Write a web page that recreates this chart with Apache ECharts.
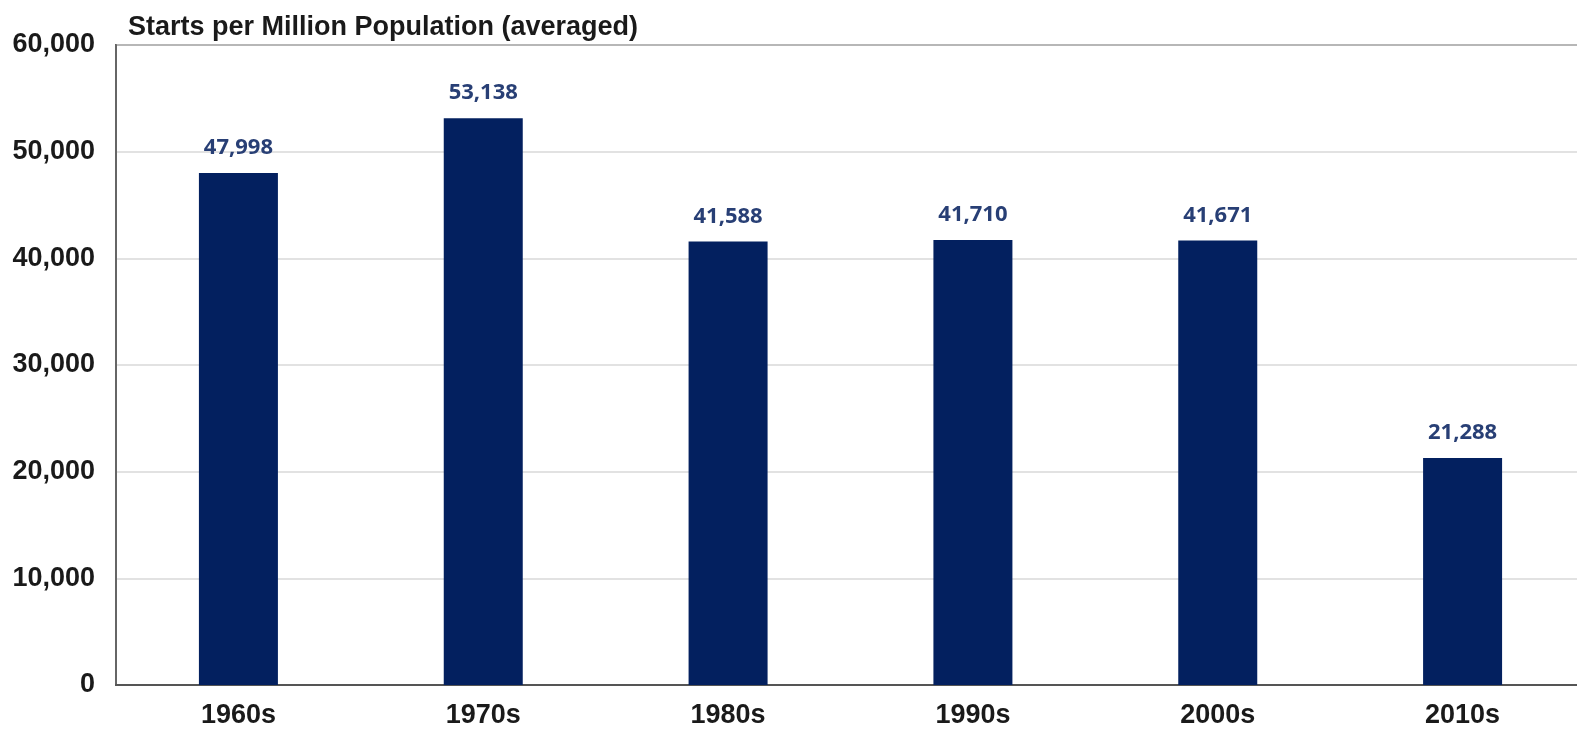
<!DOCTYPE html>
<html>
<head>
<meta charset="utf-8">
<title>Starts per Million Population</title>
<script src="https://cdn.jsdelivr.net/npm/echarts@6/dist/echarts.min.js"></script>
<style>
  html, body { margin: 0; padding: 0; background: #ffffff; }
  /* the plot frame runs past the right edge of the frame box */
  #frame { width: 1577px; height: 729px; overflow: hidden; position: relative; }
  #chart { width: 1585px; height: 729px; position: absolute; left: 0; top: 0; }
</style>
</head>
<body>
<div id="frame"><div id="chart"></div></div>
<script>
// Decades on the horizontal axis
const decades = ['1960s', '1970s', '1980s', '1990s', '2000s', '2010s'];
// Housing starts per million population, averaged over each decade
const startsPerMillion = [47998, 53138, 41588, 41710, 41671, 21288];
// Value axis range
const yMin = 0;
const yMax = 60000;
const yStep = 10000;

const fmt = v => v.toLocaleString('en-US');

const chart = echarts.init(document.getElementById('chart'), null, { renderer: 'canvas' });
chart.setOption({
  animation: false,
  backgroundColor: '#ffffff',
  title: {
    text: 'Starts per Million Population (averaged)',
    left: 128,
    top: 14,
    padding: 0,
    textStyle: {
      fontFamily: 'Liberation Sans',
      fontWeight: 'bold',
      fontSize: 27,
      color: '#1a1a1a'
    }
  },
  grid: {
    left: 116,
    right: 0,
    top: 45,
    bottom: 44,
    outerBoundsMode: 'none',
    containLabel: false,
    show: true,
    borderColor: '#555555',
    borderWidth: 2
  },
  xAxis: {
    type: 'category',
    data: decades,
    boundaryGap: true,
    axisLine: { show: true, lineStyle: { color: '#555555', width: 2 } },
    axisTick: { show: false },
    axisLabel: {
      margin: 17,
      fontFamily: 'Liberation Sans',
      fontWeight: 'bold',
      fontSize: 27,
      color: '#1a1a1a'
    },
    splitLine: { show: false }
  },
  yAxis: {
    type: 'value',
    min: yMin,
    max: yMax,
    interval: yStep,
    axisLine: { show: true, lineStyle: { color: '#666666', width: 2 } },
    axisTick: { show: false },
    axisLabel: {
      margin: 21,
      formatter: fmt,
      fontFamily: 'Liberation Sans',
      fontWeight: 'bold',
      fontSize: 27,
      color: '#1a1a1a'
    },
    splitLine: { show: true, lineStyle: { color: '#d9d9d9', width: 1.5 } }
  },
  series: [{
    type: 'bar',
    data: startsPerMillion,
    barWidth: 79,
    itemStyle: { color: '#03205f' },
    label: {
      show: true,
      position: 'top',
      distance: 14,
      formatter: p => fmt(p.value),
      fontFamily: 'Open Sans',
      fontWeight: 'bold',
      fontSize: 22,
      color: '#283f75'
    }
  }]
});
</script>
</body>
</html>
